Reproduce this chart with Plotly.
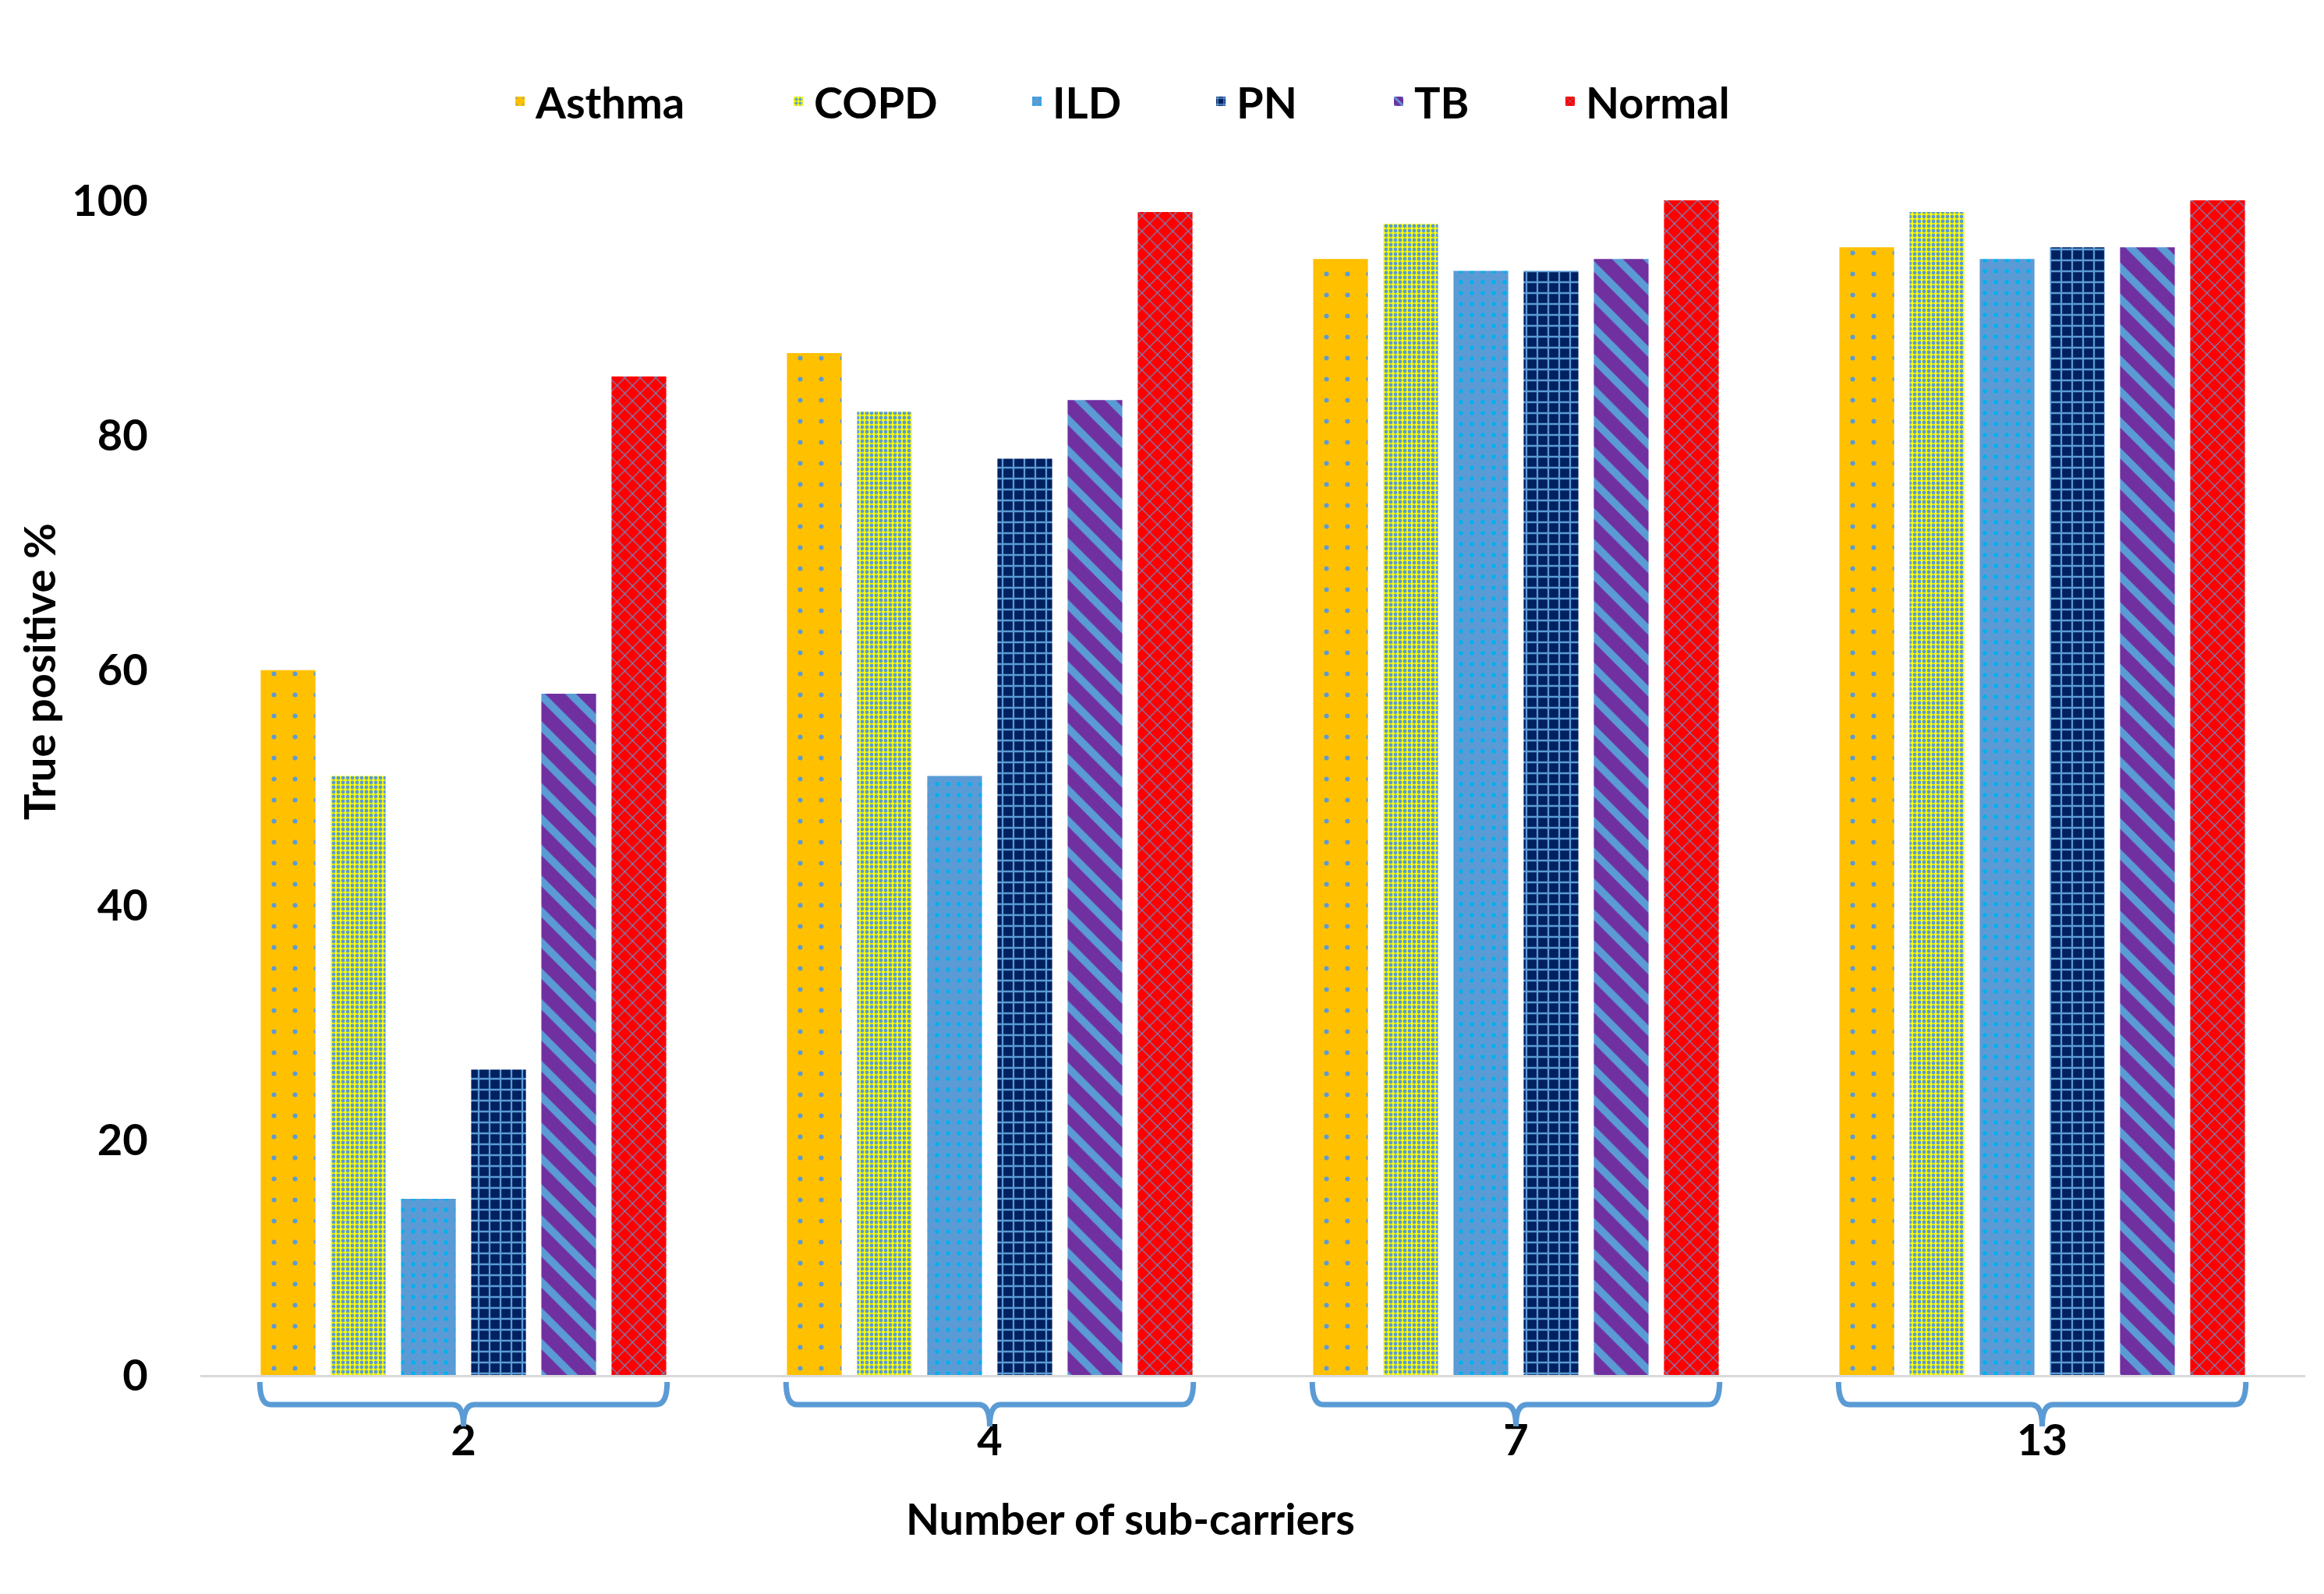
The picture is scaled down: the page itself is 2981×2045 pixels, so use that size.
import plotly.graph_objects as go

# ---------------- data ----------------
categories = ["2", "4", "7", "13"]
series_names = ["Asthma", "COPD", "ILD", "PN", "TB", "Normal"]
asthma = [60, 87, 95, 96]
copd = [51, 82, 98, 99]
ild = [15, 51, 94, 95]
pn = [26, 78, 94, 96]
tb = [58, 83, 95, 96]
normal = [85, 99, 100, 100]
y_ticks = [0, 20, 40, 60, 80, 100]
x_title = "Number of sub-carriers"
y_title = "True positive %"

series_values = [asthma, copd, ild, pn, tb, normal]

# ---------------- styles ----------------
styles = [
    dict(bg="#FFC000", fg="#5B9BD5", shape=".", size=27, solidity=0.04),
    dict(bg="#FFFF00", fg="#5B9BD5", shape=".", size=6, solidity=0.5),
    dict(bg="#5B9BD5", fg="#00B0F0", shape=".", size=14, solidity=0.12),
    dict(bg="#002060", fg="#5B9BD5", shape="+", size=14, solidity=0.3),
    dict(bg="#7030A0", fg="#5B9BD5", shape="\\", size=28, solidity=0.35),
    dict(bg="#FF0000", fg="#5B9BD5", shape="x", size=14, solidity=0.15),
]

W, H = 2965, 2029
OFF = 8  # page body margin
L, T = 249, 249
PLOT_R = 2949
PLOT_B = 1756
PW = PLOT_R - L
PH = PLOT_B - T


def px_x(xo):
    return (xo - OFF - L) / PW


def px_y(yo):
    return (PLOT_B - (yo - OFF)) / PH


FONT = dict(family="Lato", size=56, color="#000000", weight="bold")

fig = go.Figure()
legend_text_starts = [692, 1049, 1355, 1591, 1819, 2039]
for i, (name, vals, st) in enumerate(zip(series_names, series_values, styles)):
    lg = "legend" if i == 0 else f"legend{i + 1}"
    fig.add_trace(go.Bar(
        x=categories, y=vals, name=name, legend=lg,
        marker=dict(
            color=st["bg"], line=dict(width=0),
            pattern=dict(shape=st["shape"], fgcolor=st["fg"], bgcolor=st["bg"],
                         size=st["size"], solidity=st["solidity"], fillmode="replace"),
        ),
    ))

legend_layouts = {}
for i, xs in enumerate(legend_text_starts):
    key = "legend" if i == 0 else f"legend{i + 1}"
    legend_layouts[key] = dict(
        x=px_x(xs - 45), xanchor="left", y=px_y(130), yanchor="middle",
        orientation="h", font=FONT, bgcolor="rgba(0,0,0,0)", borderwidth=0,
    )

# braces under each category group
brace_shapes = []
n_cat = len(categories)
half = 0.387 / n_cat
y_top, y_mid, y_tip = px_y(1773), px_y(1802), px_y(1830)
rx = 14 / PW
for i in range(n_cat):
    xc = (i + 0.5) / n_cat
    x0, x1 = xc - half, xc + half
    path = (
        f"M {x0},{y_top} Q {x0},{y_mid} {x0 + rx},{y_mid} "
        f"L {xc - rx},{y_mid} Q {xc},{y_mid} {xc},{y_tip} "
        f"Q {xc},{y_mid} {xc + rx},{y_mid} "
        f"L {x1 - rx},{y_mid} Q {x1},{y_mid} {x1},{y_top}"
    )
    brace_shapes.append(dict(type="path", xref="paper", yref="paper", path=path,
                             line=dict(color="#5B9BD5", width=7)))

fig.update_layout(
    width=W, height=H,
    margin=dict(l=L, r=W - PLOT_R, t=T, b=H - PLOT_B, pad=0),
    paper_bgcolor="white", plot_bgcolor="white",
    barmode="group", bargap=0.2, bargroupgap=0.22,
    font=FONT,
    showlegend=True,
    shapes=brace_shapes,
    annotations=[
        dict(text=y_title, xref="paper", yref="paper", x=px_x(49), y=px_y(861),
             xanchor="center", yanchor="middle", textangle=-90, showarrow=False, font=FONT),
        dict(text=x_title, xref="paper", yref="paper", x=px_x(1450), y=px_y(1947),
             xanchor="center", yanchor="middle", showarrow=False, font=FONT),
    ],
    xaxis=dict(
        type="category", showgrid=False, zeroline=False,
        showline=True, linecolor="#D9D9D9", linewidth=3,
        ticks="outside", ticklen=33, tickcolor="rgba(0,0,0,0)",
        tickfont=FONT,
    ),
    yaxis=dict(
        range=[0, 100], tickvals=y_ticks, showgrid=False, zeroline=False,
        showline=False, ticks="outside", ticklen=55, tickcolor="rgba(0,0,0,0)",
        tickfont=FONT,
    ),
    **legend_layouts,
)

fig.write_html("out.html")
